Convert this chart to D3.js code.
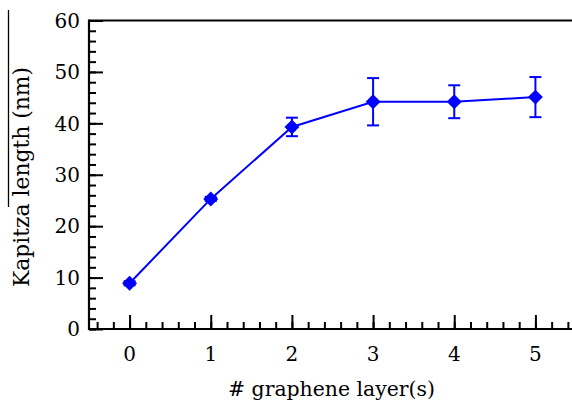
<!DOCTYPE html>
<html>
<head>
<meta charset="utf-8">
<script src="https://cdn.jsdelivr.net/npm/d3@7"></script>
<style>
  html, body { margin: 0; padding: 0; background: #fff; }
  svg { display: block; }
</style>
</head>
<body>
<svg id="chart" width="572" height="403"></svg>
<script>
// ---- data ----
const layers = [0, 1, 2, 3, 4, 5];
const kapitza = [8.9, 25.3, 39.3, 44.2, 44.2, 45.1];
const errors = [0.4, 0.4, 1.8, 4.6, 3.2, 3.9];
const xTickValues = [0, 1, 2, 3, 4, 5];
const yTickValues = [0, 10, 20, 30, 40, 50, 60];
const xTitle = "# graphene layer(s)";
const yTitle = "Kapitza length (nm)";

(function () {
const W = 572, H = 403;
const mLeft = 89, mRight = 576, mTop = 20.5, mBottom = 329;
const FONT = "DejaVu Serif";
const svg = d3.select("#chart");

const x = d3.scaleLinear().domain([-0.5, 5.5]).range([mLeft, mRight]);
const y = d3.scaleLinear().domain([0, 60]).range([mBottom, mTop]);

const data = layers.map((l, i) => ({ l, v: kapitza[i], e: errors[i] }));

function fitWidth(sel, target) {
  const node = sel.node();
  const w = node.getComputedTextLength();
  const fs = parseFloat(sel.style("font-size"));
  if (w > 0) sel.style("font-size", (fs * target / w).toFixed(2) + "px");
}

// stray crop line at far left
svg.append("line").attr("x1", 8.5).attr("x2", 8.5).attr("y1", 10).attr("y2", 207)
  .attr("stroke", "#000").attr("stroke-width", 1.3);

// top frame line
svg.append("line").attr("x1", mLeft).attr("x2", W).attr("y1", mTop).attr("y2", mTop)
  .attr("stroke", "#000").attr("stroke-width", 2.2);

// y axis (ticks inward)
const yMinor = d3.range(0, 60.001, 2);
const gyMinor = svg.append("g").attr("transform", `translate(${mLeft},0)`)
  .call(d3.axisRight(y).tickValues(yMinor).tickSize(7).tickFormat(""));
const gy = svg.append("g").attr("transform", `translate(${mLeft},0)`)
  .call(d3.axisRight(y).tickValues(yTickValues).tickSize(14).tickFormat(""));
[gyMinor, gy].forEach(g => {
  g.select(".domain").remove();
  g.selectAll("line").attr("stroke", "#000").attr("stroke-width", 2);
});
svg.append("line").attr("x1", mLeft).attr("x2", mLeft).attr("y1", mTop - 1).attr("y2", mBottom + 1)
  .attr("stroke", "#000").attr("stroke-width", 2.2);
svg.append("g").selectAll("text").data(yTickValues).join("text")
  .style("font-family", FONT).style("font-size", "20px")
  .attr("x", 80).attr("y", d => y(d)).attr("dy", "0.36em")
  .attr("text-anchor", "end").attr("fill", "#000").text(d => d);

// x axis (ticks inward)
const xMinor = d3.range(-0.4, 5.5, 0.2).map(v => Math.round(v * 10) / 10);
const gxMinor = svg.append("g").attr("transform", `translate(0,${mBottom})`)
  .call(d3.axisTop(x).tickValues(xMinor).tickSize(7).tickFormat(""));
const gx = svg.append("g").attr("transform", `translate(0,${mBottom})`)
  .call(d3.axisTop(x).tickValues(xTickValues).tickSize(14).tickFormat(""));
[gxMinor, gx].forEach(g => {
  g.select(".domain").remove();
  g.selectAll("line").attr("stroke", "#000").attr("stroke-width", 2);
});
svg.append("line").attr("x1", mLeft - 1).attr("x2", W).attr("y1", mBottom).attr("y2", mBottom)
  .attr("stroke", "#000").attr("stroke-width", 2.2);
svg.append("g").selectAll("text").data(xTickValues).join("text")
  .style("font-family", FONT).style("font-size", "20px")
  .attr("x", d => x(d)).attr("y", 361)
  .attr("text-anchor", "middle").attr("fill", "#000").text(d => d);

// axis titles
const xt = svg.append("text").style("font-family", FONT).style("font-size", "22px")
  .attr("x", 331.5).attr("y", 396).attr("text-anchor", "middle").attr("fill", "#000").text(xTitle);
fitWidth(xt, 207);
const yt = svg.append("text").style("font-family", FONT).style("font-size", "22px")
  .attr("transform", `translate(28.5,177) rotate(-90)`)
  .attr("text-anchor", "middle").attr("fill", "#000").text(yTitle);
fitWidth(yt, 220);

// connecting line
const blue = "#0000ff";
svg.append("path").datum(data)
  .attr("fill", "none").attr("stroke", blue).attr("stroke-width", 2)
  .attr("d", d3.line().x(d => x(d.l)).y(d => y(d.v)));

// error bars
const eb = svg.append("g").attr("stroke", blue).attr("stroke-width", 2);
data.forEach(d => {
  const cx = x(d.l);
  eb.append("line").attr("x1", cx).attr("x2", cx).attr("y1", y(d.v - d.e)).attr("y2", y(d.v + d.e));
  [d.v - d.e, d.v + d.e].forEach(v => {
    eb.append("line").attr("x1", cx - 6).attr("x2", cx + 6).attr("y1", y(v)).attr("y2", y(v));
  });
});

// diamond markers
svg.append("g").selectAll("path").data(data).join("path")
  .attr("d", d3.symbol().type(d3.symbolSquare).size(112))
  .attr("transform", d => `translate(${x(d.l)},${y(d.v)}) rotate(45)`)
  .attr("fill", blue);
})();
</script>
</body>
</html>
